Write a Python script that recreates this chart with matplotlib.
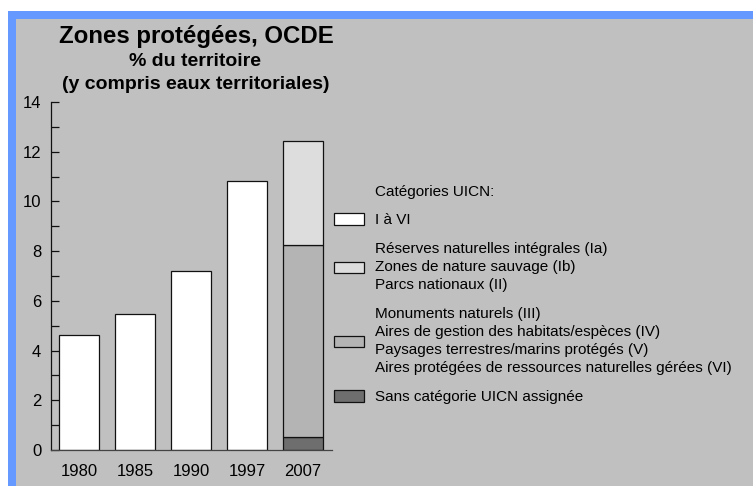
import matplotlib.pyplot as plt
from matplotlib.patches import Rectangle

# data (% of territory)
years = ['1980', '1985', '1990', '1997', '2007']
cat_i_vi = [4.61, 5.47, 7.19, 10.83]          # 1980-1997, all categories I to VI
stack_2007_sans = [0.54]                      # no IUCN category assigned
stack_2007_iii_vi = [7.72]                    # categories III-VI
stack_2007_ia_ii = [4.16]                     # categories Ia, Ib, II

legend_labels = [
    'I à VI',
    'Réserves naturelles intégrales (Ia)\nZones de nature sauvage (Ib)\nParcs nationaux (II)',
    'Monuments naturels (III)\nAires de gestion des habitats/espèces (IV)\n'
    'Paysages terrestres/marins protégés (V)\n'
    'Aires protégées de ressources naturelles gérées (VI)',
    'Sans catégorie UICN assignée',
]

W, H = 753, 486
plt.rcParams['font.family'] = ['Liberation Sans', 'DejaVu Sans']

fig = plt.figure(figsize=(W / 100, H / 100), dpi=100)
fig.patch.set_facecolor('white')

# blue frame and grey panel
fig.patches.append(Rectangle((8 / W, 0), 1, 1 - 11 / H, transform=fig.transFigure,
                             facecolor='#6699ff', edgecolor='none', zorder=-10))
fig.patches.append(Rectangle((16 / W, 0), 1, 1 - 19 / H, transform=fig.transFigure,
                             facecolor='#c0c0c0', edgecolor='none', zorder=-9))

ax = fig.add_axes([51 / W, 1 - 450 / H, (332 - 51) / W, (450 - 102) / H])
ax.set_facecolor('none')

x = list(range(len(years)))
width = 0.714
edge = dict(edgecolor='#111111', linewidth=0.9)

b_white = ax.bar(x[:4], cat_i_vi, width, color='white', **edge)
b_dark = ax.bar(x[4], stack_2007_sans, width, color='#6e6e6e', **edge)
b_mid = ax.bar(x[4], stack_2007_iii_vi, width, bottom=stack_2007_sans, color='#b4b4b4', **edge)
b_light = ax.bar(x[4], stack_2007_ia_ii, width,
                 bottom=[stack_2007_sans[0] + stack_2007_iii_vi[0]], color='#dddddd', **edge)

ax.set_xlim(-0.5, 4.52)
ax.set_ylim(0, 14)
ax.set_yticks(range(0, 15, 2))
ax.set_yticks(range(1, 14, 2), minor=True)
ax.set_xticks(x)
ax.set_xticklabels(years)
ax.tick_params(axis='y', which='both', direction='in', length=6, width=0.9,
               color='#111111', labelsize=12, pad=7)
ax.tick_params(axis='x', length=0, labelsize=12, pad=10)
for s in ['top', 'right']:
    ax.spines[s].set_visible(False)
ax.spines['left'].set_color('#111111')
ax.spines['bottom'].set_color('#444444')
ax.spines['left'].set_linewidth(0.9)
ax.spines['bottom'].set_linewidth(0.9)

# titles
fig.text(196 / W, 1 - 43 / H, 'Zones protégées, OCDE', ha='center', va='baseline',
         fontsize=17.3, fontweight='bold')
fig.text(195 / W, 1 - 66 / H, '% du territoire', ha='center', va='baseline',
         fontsize=14, fontweight='bold')
fig.text(196 / W, 1 - 89 / H, '(y compris eaux territoriales)', ha='center', va='baseline',
         fontsize=14, fontweight='bold')

# legend
fig.text(375 / W, 1 - 192 / H, 'Catégories UICN:', ha='left', va='center', fontsize=11)
leg = fig.legend([b_white, b_light, b_mid, b_dark], legend_labels,
                 loc='upper left', bbox_to_anchor=(334 / W, 1 - 213 / H),
                 frameon=False, fontsize=11, borderpad=0, borderaxespad=0,
                 handlelength=1.96, handleheight=0.79, handletextpad=0.72,
                 labelspacing=1.0)
for t in leg.get_texts():
    t.set_linespacing(1.35)

fig.savefig('out.png', dpi=100, facecolor=fig.get_facecolor())
